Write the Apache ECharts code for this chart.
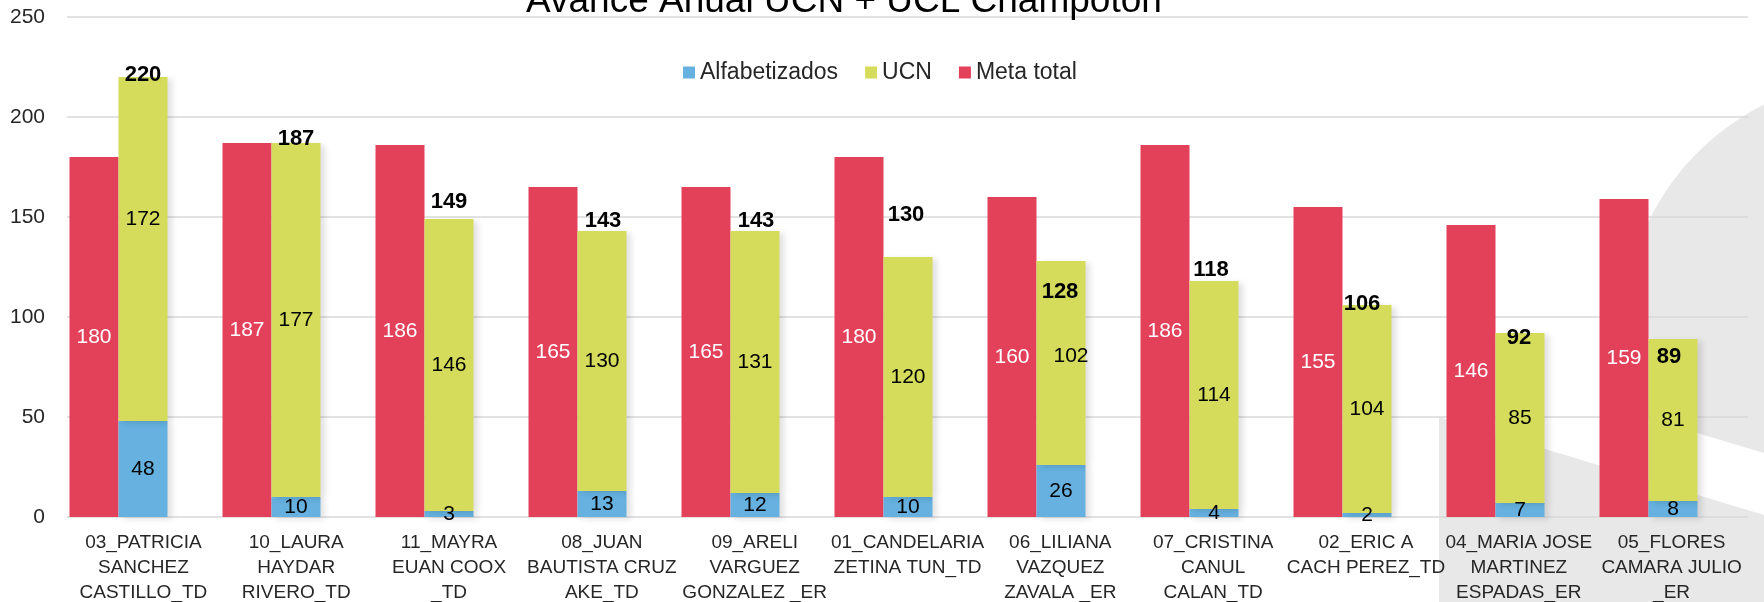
<!DOCTYPE html>
<html>
<head>
<meta charset="utf-8">
<title>Avance Anual UCN + UCL Champotón</title>
<script src="https://cdn.jsdelivr.net/npm/echarts@6/dist/echarts.min.js"></script>
<style>
  html, body { margin: 0; padding: 0; background: #fff; }
  #chart { width: 1764px; height: 602px; }
</style>
</head>
<body>
<div id="chart"></div>
<script>
const categories = [
  '03_PATRICIA\nSANCHEZ\nCASTILLO_TD',
  '10_LAURA\nHAYDAR\nRIVERO_TD',
  '11_MAYRA\nEUAN COOX\n_TD',
  '08_JUAN\nBAUTISTA CRUZ\nAKE_TD',
  '09_ARELI\nVARGUEZ\nGONZALEZ _ER',
  '01_CANDELARIA\nZETINA TUN_TD',
  '06_LILIANA\nVAZQUEZ\nZAVALA _ER',
  '07_CRISTINA\nCANUL\nCALAN_TD',
  '02_ERIC A\nCACH PEREZ_TD',
  '04_MARIA JOSE\nMARTINEZ\nESPADAS_ER',
  '05_FLORES\nCAMARA JULIO\n_ER'
];
const metaTotal = [180, 187, 186, 165, 165, 180, 160, 186, 155, 146, 159];
const alfabetizados = [48, 10, 3, 13, 12, 10, 26, 4, 2, 7, 8];
const ucn = [172, 177, 146, 130, 131, 120, 102, 114, 104, 85, 81];
const totals = [220, 187, 149, 143, 143, 130, 128, 118, 106, 92, 89];
const yTicks = [0, 50, 100, 150, 200, 250];

// label nudges (px) as placed by hand in the original
const totalLabelShift = [[0, -2], [0, -4], [0, -17], [1, -10], [1, -10], [-2, -42], [-1, 31], [-3, -11], [-5, -1], [-1, 5], [-4, 18]];
const ucnLabelShift = { 0: [0, -30], 6: [10, -7] };

const FONT = '"Liberation Sans", Arial, sans-serif';
const RED = '#e3405a';
const LIME = '#d5db5b';
const BLUE = '#66b1e0';

const chart = echarts.init(document.getElementById('chart'));

const barShadow = {
  shadowColor: 'rgba(0,0,0,0.12)',
  shadowBlur: 6,
  shadowOffsetX: 4,
  shadowOffsetY: 2
};

const option = {
  animation: false,
  textStyle: { fontFamily: FONT },
  title: {
    text: 'Avance Anual UCN + UCL Champotón',
    left: 521,
    top: -22,
    textStyle: { fontFamily: FONT, fontSize: 37, fontWeight: 'normal', color: '#000' }
  },
  legend: {
    data: ['Alfabetizados', 'UCN', 'Meta total'],
    left: 678,
    top: 56,
    icon: 'rect',
    itemWidth: 12,
    itemHeight: 12,
    itemGap: 27,
    textStyle: { fontFamily: FONT, fontSize: 23, color: '#262626' }
  },
  graphic: [
    { type: 'circle', z: -12, silent: true, shape: { cx: 1880, cy: 335, r: 258 }, style: { fill: '#e8e8e8' } },
    { type: 'polygon', z: -11, silent: true, shape: { points: [[1560, 392], [1764, 453], [1764, 602], [1560, 602]] }, style: { fill: '#fff' } },
    { type: 'polygon', z: -10, silent: true, shape: { points: [[1439, 417], [1764, 515], [1764, 602], [1439, 602]] }, style: { fill: '#e8e8e8' } }
  ],
  grid: [
    // plot frame with gridlines and axis labels
    { left: 67, right: 16, top: 17, bottom: 85, outerBoundsMode: 'none' },
    // the bars sit a little to the left of the frame in the original
    { left: 42, right: 39, top: 17, bottom: 85, outerBoundsMode: 'none' }
  ],
  xAxis: [
    {
      type: 'category',
      gridIndex: 0,
      data: categories,
      axisLine: { show: false },
      axisTick: { show: false },
      axisLabel: {
        interval: 0,
        margin: 13,
        fontFamily: FONT,
        fontSize: 19,
        lineHeight: 25,
        color: '#262626'
      }
    },
    { type: 'category', gridIndex: 1, data: categories, show: false }
  ],
  yAxis: [
    {
      type: 'value',
      gridIndex: 0,
      min: yTicks[0],
      max: yTicks[yTicks.length - 1],
      interval: yTicks[1] - yTicks[0],
      axisLine: { show: false },
      axisTick: { show: false },
      splitLine: { lineStyle: { color: '#d9d9d9', width: 1.5 } },
      axisLabel: { margin: 22, fontFamily: FONT, fontSize: 21, color: '#262626' }
    },
    {
      type: 'value',
      gridIndex: 1,
      min: yTicks[0],
      max: yTicks[yTicks.length - 1],
      interval: yTicks[1] - yTicks[0],
      show: false,
      splitLine: { show: false }
    }
  ],
  series: [
    {
      name: 'Meta total',
      type: 'bar',
      xAxisIndex: 1,
      yAxisIndex: 1,
      barWidth: 49,
      barGap: '0%',
      data: metaTotal,
      itemStyle: { color: RED },
      label: { show: true, position: 'inside', color: '#fff', fontFamily: FONT, fontSize: 21 }
    },
    {
      name: 'Alfabetizados',
      type: 'bar',
      stack: 'avance',
      xAxisIndex: 1,
      yAxisIndex: 1,
      barWidth: 49,
      data: alfabetizados,
      itemStyle: Object.assign({ color: BLUE }, barShadow),
      label: { show: true, position: 'inside', color: '#000', fontFamily: FONT, fontSize: 21 }
    },
    {
      name: 'UCN',
      type: 'bar',
      stack: 'avance',
      xAxisIndex: 1,
      yAxisIndex: 1,
      barWidth: 49,
      data: ucn.map((v, i) => ucnLabelShift[i] ? { value: v, label: { offset: ucnLabelShift[i] } } : v),
      itemStyle: Object.assign({ color: LIME }, barShadow),
      label: { show: true, position: 'inside', color: '#000', fontFamily: FONT, fontSize: 21 }
    },
    {
      name: 'Total',
      type: 'bar',
      stack: 'avance',
      xAxisIndex: 1,
      yAxisIndex: 1,
      barWidth: 49,
      data: totals.map((t, i) => ({ value: 0, label: { offset: totalLabelShift[i] } })),
      itemStyle: { color: 'transparent' },
      label: {
        show: true,
        position: 'inside',
        color: '#000',
        fontFamily: FONT,
        fontSize: 22,
        fontWeight: 'bold',
        formatter: p => totals[p.dataIndex]
      }
    }
  ]
};

chart.setOption(option);
window.addEventListener('resize', () => chart.resize());
</script>
</body>
</html>
